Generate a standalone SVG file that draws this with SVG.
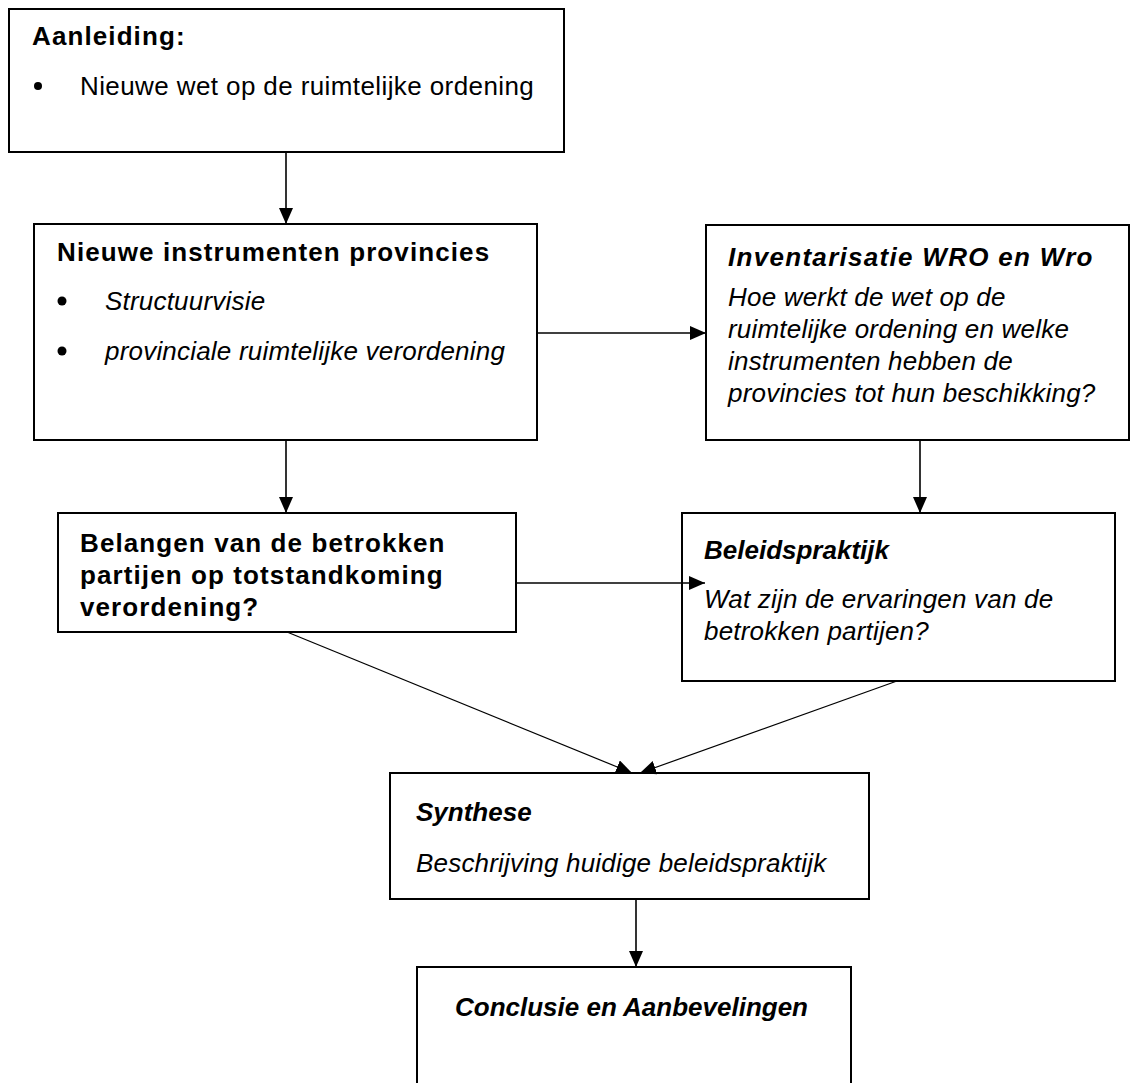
<svg xmlns="http://www.w3.org/2000/svg" width="1130" height="1083" viewBox="0 0 1130 1083">
<style>
.box{fill:#fff;stroke:#000;stroke-width:2}
.t{font-family:"Liberation Sans",Arial,sans-serif;font-size:26px;fill:#000}
.b{font-weight:bold;letter-spacing:1.1px}
.i{font-style:italic;letter-spacing:0.2px}
.b.i{letter-spacing:0}
.c{stroke:#000;stroke-width:1.6;fill:none}
.d{stroke:#000;stroke-width:1.2;fill:none}
</style>
<defs>
<marker id="ah" markerUnits="userSpaceOnUse" markerWidth="16" markerHeight="14" refX="16" refY="7" orient="auto">
<path d="M0,0 L16,7 L0,14 Z" fill="#000"/>
</marker>
</defs>
<rect width="1130" height="1083" fill="#fff"/>
<g id="aanleiding">
<rect class="box" x="9" y="9" width="555" height="143"/>
<text class="t b" x="32" y="45">Aanleiding:</text>
<circle cx="38" cy="86" r="4"/>
<text class="t" x="80" y="95" style="letter-spacing:0.4px">Nieuwe wet op de ruimtelijke ordening</text>
</g>
<g id="instrumenten">
<rect class="box" x="34" y="224" width="503" height="216"/>
<text class="t b" x="57" y="261">Nieuwe instrumenten provincies</text>
<circle cx="62" cy="301" r="4.5"/>
<text class="t i" x="105" y="310">Structuurvisie</text>
<circle cx="62" cy="351" r="4.5"/>
<text class="t i" x="105" y="360">provinciale ruimtelijke verordening</text>
</g>
<g id="inventarisatie">
<rect class="box" x="706" y="225" width="423" height="215"/>
<text class="t b i" x="728" y="266" style="letter-spacing:1.3px">Inventarisatie WRO en Wro</text>
<text class="t i" x="728" y="306">Hoe werkt de wet op de</text>
<text class="t i" x="728" y="338">ruimtelijke ordening en welke</text>
<text class="t i" x="728" y="370">instrumenten hebben de</text>
<text class="t i" x="728" y="402">provincies tot hun beschikking?</text>
</g>
<g id="belangen">
<rect class="box" x="58" y="513" width="458" height="119"/>
<text class="t b" x="80" y="552">Belangen van de betrokken</text>
<text class="t b" x="80" y="584">partijen op totstandkoming</text>
<text class="t b" x="80" y="616">verordening?</text>
</g>
<g id="beleidspraktijk">
<rect class="box" x="682" y="513" width="433" height="168"/>
<text class="t b i" x="704" y="559">Beleidspraktijk</text>
<text class="t i" x="704" y="608">Wat zijn de ervaringen van de</text>
<text class="t i" x="704" y="640">betrokken partijen?</text>
</g>
<g id="synthese">
<rect class="box" x="390" y="773" width="479" height="126"/>
<text class="t b i" x="416" y="821">Synthese</text>
<text class="t i" x="416" y="872">Beschrijving huidige beleidspraktijk</text>
</g>
<g id="conclusie">
<rect class="box" x="417" y="967" width="434" height="130"/>
<text class="t b i" x="455" y="1016">Conclusie en Aanbevelingen</text>
</g>
<g id="connectors">
<line class="c" x1="286" y1="152" x2="286" y2="224" marker-end="url(#ah)"/>
<line class="c" x1="537" y1="333" x2="706" y2="333" marker-end="url(#ah)"/>
<line class="c" x1="286" y1="440" x2="286" y2="513" marker-end="url(#ah)"/>
<line class="c" x1="920" y1="440" x2="920" y2="513" marker-end="url(#ah)"/>
<line class="c" x1="516" y1="583" x2="705" y2="583" marker-end="url(#ah)"/>
<line class="d" x1="287" y1="632" x2="632" y2="773" marker-end="url(#ah)"/>
<line class="d" x1="897" y1="681" x2="640" y2="773" marker-end="url(#ah)"/>
<line class="c" x1="636" y1="899" x2="636" y2="967" marker-end="url(#ah)"/>
</g>
</svg>
